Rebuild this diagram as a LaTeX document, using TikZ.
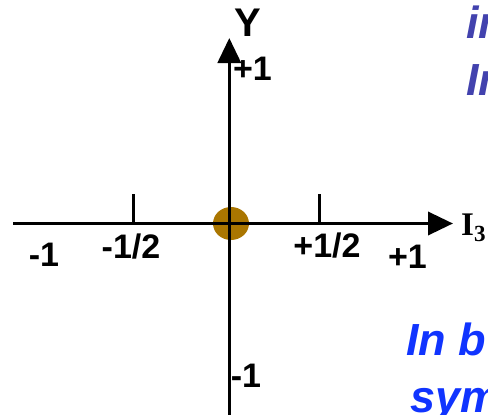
\documentclass[tikz,border=0pt]{standalone}
\usepackage{fontspec}
\setmainfont{Liberation Sans}
\newfontfamily\serifI{Liberation Serif}
\usetikzlibrary{arrows.meta,shapes.geometric}
\definecolor{dotcol}{RGB}{170,118,0}
\definecolor{topblue}{RGB}{66,66,174}
\definecolor{botblue}{RGB}{16,52,255}
\tikzset{
  axis/.style={line width=3.6pt, -{Triangle[length=25pt,width=23pt]}},
  tick/.style={line width=3pt},
  lab/.style={inner sep=0pt, font=\fontsize{34}{40}\selectfont\bfseries},
  bluetxt/.style={inner sep=0pt, anchor=base west, font=\fontsize{45}{54}\selectfont\bfseries\itshape},
}
\begin{document}
\begin{tikzpicture}[x=1pt,y=-1pt]
\useasboundingbox (0,0) rectangle (488,415);
\clip (0,0) rectangle (488,415);
\fill[white] (0,0) rectangle (488,415);
% axis end points
\coordinate (xs) at (13,223.5);
\coordinate (xe) at (453,223.5);
\coordinate (ys) at (229.3,420);
\coordinate (ye) at (229.3,38);
\coordinate (t1) at (133,194);
\coordinate (t1b) at (133,223.5);
\coordinate (t2) at (319,194);
\coordinate (t2b) at (319,223.5);
% dot
\node[ellipse, fill=dotcol, minimum width=36pt, minimum height=33pt, inner sep=0pt] (dot) at (231,223.5) {};
\draw[axis] (xs) -- (xe);
\draw[axis] (ys) -- (ye);
\draw[tick] (t1) -- (t1b);
\draw[tick] (t2) -- (t2b);
% labels
\node[lab] (lm1) at (44,255) {-1};
\node[lab] (lmh) at (131,246.5) {-1/2};
\node[lab] (lph) at (327,245.5) {+1/2};
\node[lab] (lp1) at (407.5,256.5) {+1};
\node[lab] (yp1) at (252.5,68.5) {+1};
\node[lab] (ym1) at (246,375.5) {-1};
\node[inner sep=0pt, font=\fontsize{40}{44}\selectfont\bfseries] (ylab) at (247.5,22.5) {Y};
\node[inner sep=0pt, anchor=base west, font=\fontsize{33}{38}\selectfont\serifI\bfseries] (xlab) at (461,235) {I\textsubscript{3}};
% cropped blue text
\node[bluetxt, text=topblue] (b1) at (466,38) {in};
\node[bluetxt, text=topblue] (b2) at (466,95) {In};
\node[bluetxt, text=botblue] (b3) at (406,355) {In b};
\node[bluetxt, text=botblue] (b4) at (410,412) {sym};
\end{tikzpicture}
\end{document}
